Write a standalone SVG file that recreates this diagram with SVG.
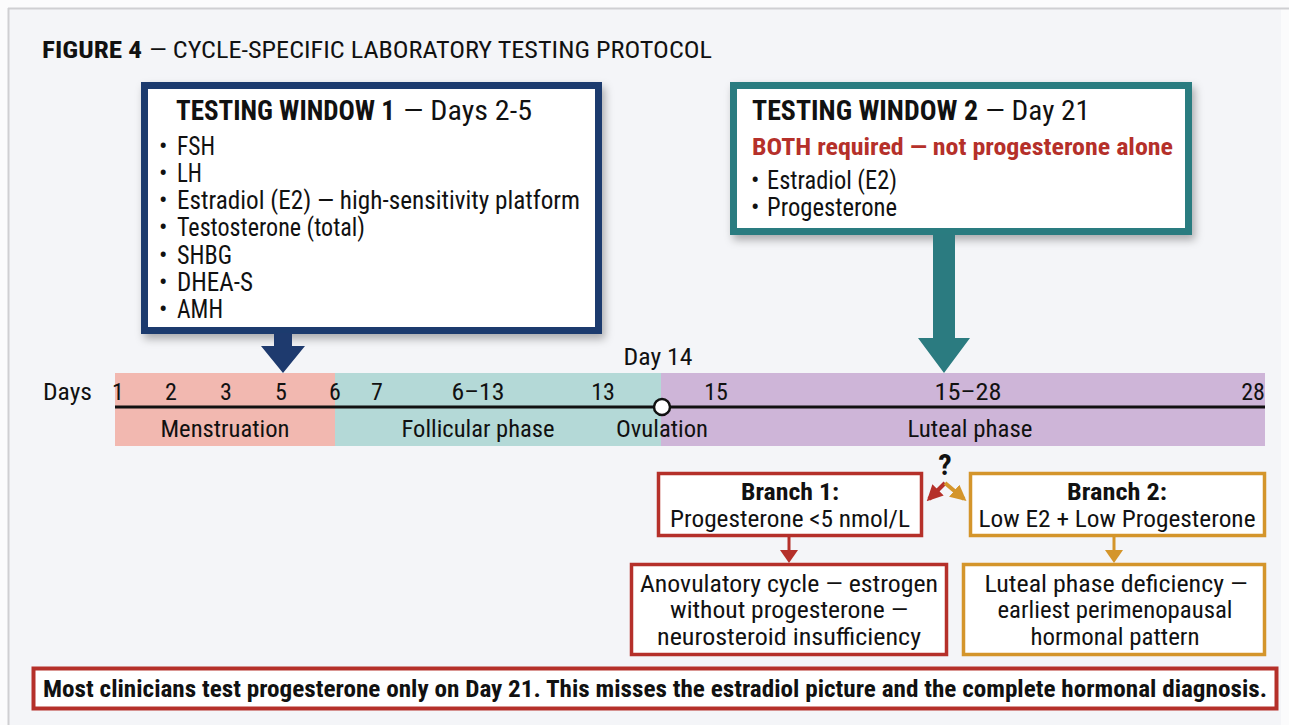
<svg xmlns="http://www.w3.org/2000/svg" width="1289" height="725" viewBox="0 0 1289 725">
<defs>
<style>
text{font-family:"Liberation Sans Narrow","Roboto Condensed","DejaVu Sans Condensed","Arial Narrow","Liberation Sans",sans-serif;fill:#111;}
.b{font-weight:bold;}
.t{font-size:24px;}
.h{font-size:28px;}
.li{font-size:25px;}
.tl{font-size:24px;}
.c{text-anchor:middle;}
.bx{fill:#fff;}
</style>
<filter id="sh" x="-10%" y="-10%" width="125%" height="130%">
<feDropShadow dx="3" dy="5" stdDeviation="4" flood-color="#000" flood-opacity="0.3"/>
</filter>
<marker id="mr" viewBox="0 0 10 10" refX="8" refY="5" markerWidth="4" markerHeight="4" orient="auto" markerUnits="strokeWidth"><path d="M0,0 L10,5 L0,10 z" fill="#b5302a"/></marker>
<marker id="mg" viewBox="0 0 10 10" refX="8" refY="5" markerWidth="4" markerHeight="4" orient="auto" markerUnits="strokeWidth"><path d="M0,0 L10,5 L0,10 z" fill="#d4952b"/></marker>
</defs>
<rect width="1289" height="725" fill="#fbfbfc"/>
<rect x="8" y="8" width="1273" height="717" fill="#f4f5f8"/>
<line x1="8" y1="8.5" x2="1289" y2="8.5" stroke="#cfcfd2" stroke-width="2"/>
<line x1="8.5" y1="8" x2="8.5" y2="725" stroke="#cfcfd2" stroke-width="2"/>

<g id="title">
<text x="42" y="58" class="t b" textLength="100" lengthAdjust="spacingAndGlyphs">FIGURE 4</text>
<text x="149" y="58" class="t" textLength="563" lengthAdjust="spacingAndGlyphs">— CYCLE-SPECIFIC LABORATORY TESTING PROTOCOL</text>
</g>

<g id="window1">
<rect x="144.5" y="85.5" width="454" height="245" class="bx" stroke="#1e3a6e" stroke-width="7" filter="url(#sh)"/>
<text x="176" y="120" class="h b" textLength="219" lengthAdjust="spacingAndGlyphs">TESTING WINDOW 1</text>
<text x="403" y="120" class="h" textLength="129" lengthAdjust="spacingAndGlyphs">— Days 2-5</text>
<g class="li">
<text x="159" y="155">•</text><text x="177" y="155" textLength="38" lengthAdjust="spacingAndGlyphs">FSH</text>
<text x="159" y="182">•</text><text x="177" y="182" textLength="25" lengthAdjust="spacingAndGlyphs">LH</text>
<text x="159" y="209">•</text><text x="177" y="209" textLength="403" lengthAdjust="spacingAndGlyphs">Estradiol (E2) — high-sensitivity platform</text>
<text x="159" y="236">•</text><text x="177" y="236" textLength="188" lengthAdjust="spacingAndGlyphs">Testosterone (total)</text>
<text x="159" y="264">•</text><text x="177" y="264" textLength="55" lengthAdjust="spacingAndGlyphs">SHBG</text>
<text x="159" y="291">•</text><text x="177" y="291" textLength="76" lengthAdjust="spacingAndGlyphs">DHEA-S</text>
<text x="159" y="318">•</text><text x="177" y="318" textLength="46" lengthAdjust="spacingAndGlyphs">AMH</text>
</g>
</g>

<g id="window2">
<rect x="733.5" y="85.5" width="455" height="146" class="bx" stroke="#2b7b80" stroke-width="7" filter="url(#sh)"/>
<text x="752" y="120" class="h b" textLength="226" lengthAdjust="spacingAndGlyphs">TESTING WINDOW 2</text>
<text x="985" y="120" class="h" textLength="105" lengthAdjust="spacingAndGlyphs">— Day 21</text>
<text x="752" y="155" class="b" style="font-size:24px;fill:#b5302a" textLength="421" lengthAdjust="spacingAndGlyphs">BOTH required — not progesterone alone</text>
<g class="li">
<text x="751" y="189">•</text><text x="767" y="189" textLength="130" lengthAdjust="spacingAndGlyphs">Estradiol (E2)</text>
<text x="751" y="216">•</text><text x="767" y="216" textLength="130" lengthAdjust="spacingAndGlyphs">Progesterone</text>
</g>
</g>

<g id="timeline">
<rect x="115" y="373" width="220" height="73" fill="#f2b8b0"/>
<rect x="335" y="373" width="326" height="73" fill="#b4d9d7"/>
<rect x="661" y="373" width="604" height="73" fill="#ceb5d8"/>
<line x1="115" y1="407" x2="1265" y2="407" stroke="#111" stroke-width="3"/>
<circle cx="662" cy="407" r="8" fill="#fff" stroke="#111" stroke-width="2.5"/>
<g class="tl">
<text x="43" y="400" textLength="49" lengthAdjust="spacingAndGlyphs">Days</text>
<text x="118" y="400" class="c">1</text>
<text x="171" y="400" class="c">2</text>
<text x="226" y="400" class="c">3</text>
<text x="281" y="400" class="c">5</text>
<text x="335" y="400" class="c">6</text>
<text x="377" y="400" class="c">7</text>
<text x="478" y="400" class="c" textLength="53" lengthAdjust="spacingAndGlyphs">6–13</text>
<text x="603" y="400" class="c">13</text>
<text x="716" y="400" class="c">15</text>
<text x="968" y="400" class="c" textLength="67" lengthAdjust="spacingAndGlyphs">15–28</text>
<text x="1253" y="400" class="c">28</text>
<text x="658" y="365" class="c" textLength="69" lengthAdjust="spacingAndGlyphs">Day 14</text>
<text x="225" y="437" class="c" textLength="129" lengthAdjust="spacingAndGlyphs">Menstruation</text>
<text x="478" y="437" class="c" textLength="153" lengthAdjust="spacingAndGlyphs">Follicular phase</text>
<text x="662" y="437" class="c" textLength="92" lengthAdjust="spacingAndGlyphs">Ovulation</text>
<text x="970" y="437" class="c" textLength="125" lengthAdjust="spacingAndGlyphs">Luteal phase</text>
</g>
</g>

<g id="branch1">
<rect x="658.5" y="473.5" width="263" height="62" class="bx" stroke="#b5302a" stroke-width="3.5"/>
<text x="790" y="500" class="tl b c" textLength="98" lengthAdjust="spacingAndGlyphs">Branch 1:</text>
<text x="790" y="527" class="tl c" textLength="240" lengthAdjust="spacingAndGlyphs">Progesterone &lt;5 nmol/L</text>
</g>
<g id="branch2">
<rect x="970.5" y="473.5" width="294" height="62" class="bx" stroke="#d4952b" stroke-width="3.5"/>
<text x="1117" y="500" class="tl b c" textLength="100" lengthAdjust="spacingAndGlyphs">Branch 2:</text>
<text x="1117" y="527" class="tl c" textLength="277" lengthAdjust="spacingAndGlyphs">Low E2 + Low Progesterone</text>
</g>
<g id="result1">
<rect x="631.5" y="564.5" width="315" height="90" class="bx" stroke="#b5302a" stroke-width="3.5"/>
<text x="789" y="592" class="tl c" textLength="298" lengthAdjust="spacingAndGlyphs">Anovulatory cycle — estrogen</text>
<text x="789" y="618" class="tl c" textLength="238" lengthAdjust="spacingAndGlyphs">without progesterone —</text>
<text x="789" y="645" class="tl c" textLength="264" lengthAdjust="spacingAndGlyphs">neurosteroid insufficiency</text>
</g>
<g id="result2">
<rect x="963.5" y="564.5" width="301" height="90" class="bx" stroke="#d4952b" stroke-width="3.5"/>
<text x="1116" y="592" class="tl c" textLength="263" lengthAdjust="spacingAndGlyphs">Luteal phase deficiency —</text>
<text x="1115" y="618" class="tl c" textLength="235" lengthAdjust="spacingAndGlyphs">earliest perimenopausal</text>
<text x="1115" y="645" class="tl c" textLength="169" lengthAdjust="spacingAndGlyphs">hormonal pattern</text>
</g>
<g id="question">
<text x="945" y="475" class="b c" style="font-size:30px">?</text>
</g>

<g id="banner">
<rect x="33.5" y="668.5" width="1243" height="40" class="bx" stroke="#b5302a" stroke-width="4"/>
<text x="43" y="697" class="b" style="font-size:24px" textLength="1224" lengthAdjust="spacingAndGlyphs">Most clinicians test progesterone only on Day 21. This misses the estradiol picture and the complete hormonal diagnosis.</text>
</g>

<g id="connectors">
<polygon points="274,333 292,333 292,346 305,346 283,373 261,346 274,346" fill="#1e3a6e"/>
<polygon points="933,234 955,234 955,338 970,338 944,373 918,338 933,338" fill="#2b7b80"/>
<line x1="945" y1="483" x2="929" y2="499" stroke="#b5302a" stroke-width="4" marker-end="url(#mr)"/>
<line x1="945" y1="483" x2="964" y2="499" stroke="#d4952b" stroke-width="4" marker-end="url(#mg)"/>
<line x1="789" y1="537" x2="789" y2="552" stroke="#b5302a" stroke-width="3"/>
<polygon points="780,550 798,550 789,563" fill="#b5302a"/>
<line x1="1114" y1="537" x2="1114" y2="552" stroke="#d4952b" stroke-width="3"/>
<polygon points="1105,550 1123,550 1114,563" fill="#d4952b"/>
</g>
</svg>
